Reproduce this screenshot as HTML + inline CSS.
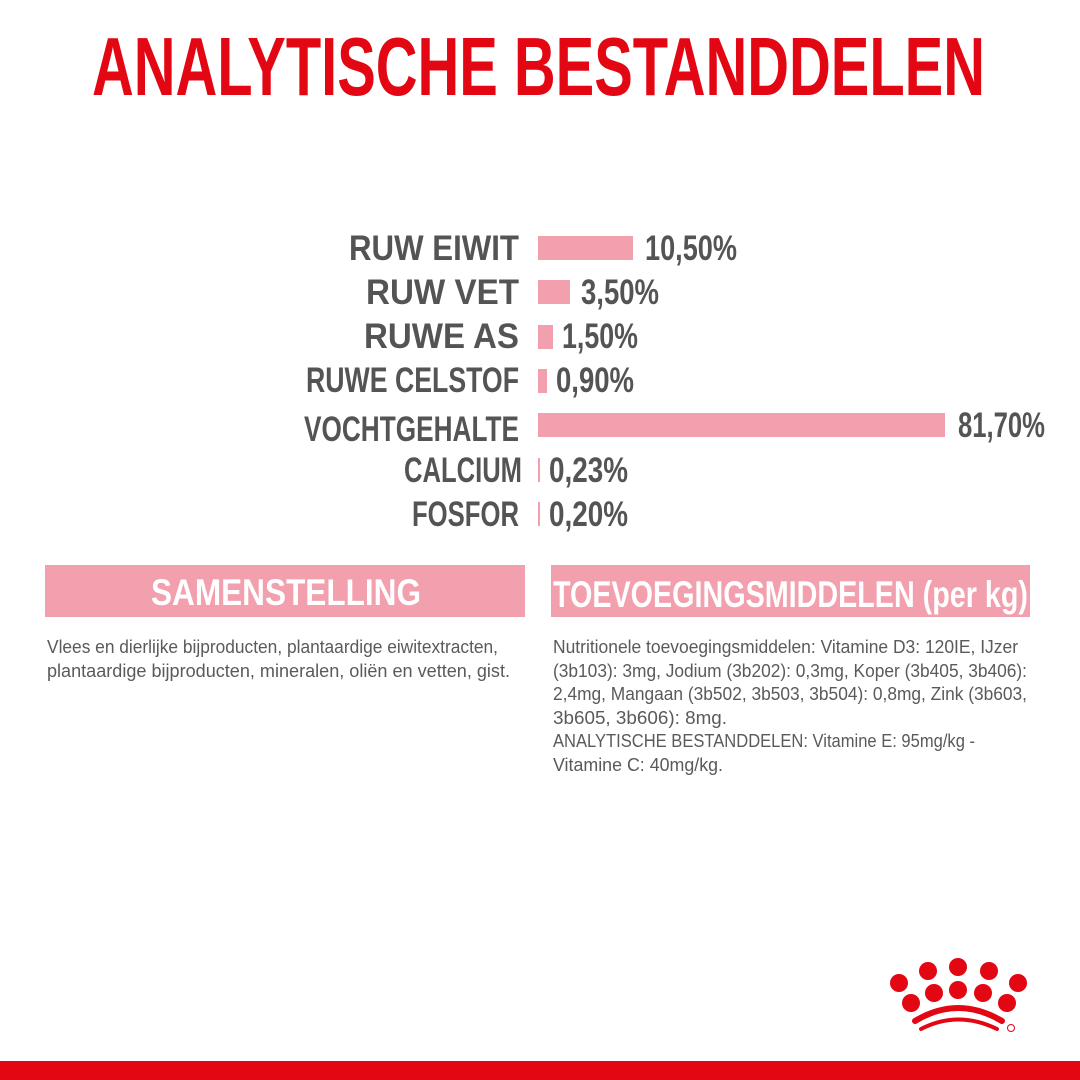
<!DOCTYPE html>
<html><head><meta charset="utf-8"><style>
html,body{margin:0;padding:0;background:#fff;}
svg{display:block}
</style></head><body>
<svg width="1080" height="1080" viewBox="0 0 1080 1080" xmlns="http://www.w3.org/2000/svg">
<rect width="1080" height="1080" fill="#fff"/>
<text x="92" y="95" font-family="Liberation Sans Narrow, Liberation Sans, sans-serif" font-weight="bold" font-size="83" fill="#e30613" textLength="893" lengthAdjust="spacingAndGlyphs">ANALYTISCHE BESTANDDELEN</text>

<g font-family="Liberation Sans Narrow, Liberation Sans, sans-serif" font-weight="bold" font-size="35" fill="#545454">
<text x="349" y="260" textLength="170" lengthAdjust="spacingAndGlyphs">RUW EIWIT</text>
<text x="366" y="304" textLength="153" lengthAdjust="spacingAndGlyphs">RUW VET</text>
<text x="364" y="348" textLength="155" lengthAdjust="spacingAndGlyphs">RUWE AS</text>
<text x="306" y="392" textLength="213" lengthAdjust="spacingAndGlyphs">RUWE CELSTOF</text>
<text x="304" y="441" textLength="215" lengthAdjust="spacingAndGlyphs">VOCHTGEHALTE</text>
<text x="404" y="482" textLength="118" lengthAdjust="spacingAndGlyphs">CALCIUM</text>
<text x="412" y="526" textLength="107" lengthAdjust="spacingAndGlyphs">FOSFOR</text>
<text x="645" y="260" textLength="92" lengthAdjust="spacingAndGlyphs">10,50%</text>
<text x="581" y="304" textLength="78" lengthAdjust="spacingAndGlyphs">3,50%</text>
<text x="562" y="348" textLength="76" lengthAdjust="spacingAndGlyphs">1,50%</text>
<text x="556" y="392" textLength="78" lengthAdjust="spacingAndGlyphs">0,90%</text>
<text x="958" y="437" textLength="87" lengthAdjust="spacingAndGlyphs">81,70%</text>
<text x="549" y="482" textLength="79" lengthAdjust="spacingAndGlyphs">0,23%</text>
<text x="549" y="526" textLength="79" lengthAdjust="spacingAndGlyphs">0,20%</text>
</g>
<g fill="#f29fae">
<rect x="538" y="236" width="95" height="24"/>
<rect x="538" y="280" width="32" height="24"/>
<rect x="538" y="325" width="15" height="24"/>
<rect x="538" y="369" width="9" height="24"/>
<rect x="538" y="413" width="407" height="24"/>
<rect x="538" y="458" width="2" height="24"/>
<rect x="538" y="502" width="2" height="24"/>
</g>

<rect x="45" y="565" width="480" height="52" fill="#f29fae"/>
<rect x="551" y="565" width="479" height="52" fill="#f29fae"/>
<g font-family="Liberation Sans Narrow, Liberation Sans, sans-serif" font-weight="bold" font-size="37" fill="#fff">
<text x="151" y="605" textLength="270" lengthAdjust="spacingAndGlyphs">SAMENSTELLING</text>
<text x="553" y="607" textLength="475" lengthAdjust="spacingAndGlyphs">TOEVOEGINGSMIDDELEN (per kg)</text>
</g>

<g font-family="Liberation Sans Narrow, Liberation Sans, sans-serif" font-size="18" fill="#5a5a5a">
<text x="47" y="653" textLength="451" lengthAdjust="spacingAndGlyphs">Vlees en dierlijke bijproducten, plantaardige eiwitextracten,</text>
<text x="47" y="677" textLength="463" lengthAdjust="spacingAndGlyphs">plantaardige bijproducten, mineralen, oliën en vetten, gist.</text>
<text x="553" y="653" textLength="465" lengthAdjust="spacingAndGlyphs">Nutritionele toevoegingsmiddelen: Vitamine D3: 120IE, IJzer</text>
<text x="553" y="677" textLength="474" lengthAdjust="spacingAndGlyphs">(3b103): 3mg, Jodium (3b202): 0,3mg, Koper (3b405, 3b406):</text>
<text x="553" y="700" textLength="474" lengthAdjust="spacingAndGlyphs">2,4mg, Mangaan (3b502, 3b503, 3b504): 0,8mg, Zink (3b603,</text>
<text x="553" y="724" textLength="174" lengthAdjust="spacingAndGlyphs">3b605, 3b606): 8mg.</text>
<text x="553" y="747" textLength="422" lengthAdjust="spacingAndGlyphs">ANALYTISCHE BESTANDDELEN: Vitamine E: 95mg/kg -</text>
<text x="553" y="771" textLength="170" lengthAdjust="spacingAndGlyphs">Vitamine C: 40mg/kg.</text>
</g>

<g fill="#e30613">
<circle cx="899" cy="983" r="9"/>
<circle cx="928" cy="971" r="9"/>
<circle cx="958" cy="967" r="9"/>
<circle cx="989" cy="971" r="9"/>
<circle cx="1018" cy="983" r="9"/>
<circle cx="911" cy="1003" r="9"/>
<circle cx="934" cy="993" r="9"/>
<circle cx="958" cy="990" r="9"/>
<circle cx="983" cy="993" r="9"/>
<circle cx="1007" cy="1003" r="9"/>
<path d="M915 1021 Q958 995 1002 1021" stroke="#e30613" stroke-width="6" fill="none" stroke-linecap="round"/>
<path d="M921 1029 Q958 1010 997 1029" stroke="#e30613" stroke-width="4" fill="none" stroke-linecap="round"/>
<circle cx="1011" cy="1028" r="3.5" fill="none" stroke="#e30613" stroke-width="1"/>
<rect x="0" y="1061" width="1080" height="19"/>
</g>
</svg>
</body></html>
